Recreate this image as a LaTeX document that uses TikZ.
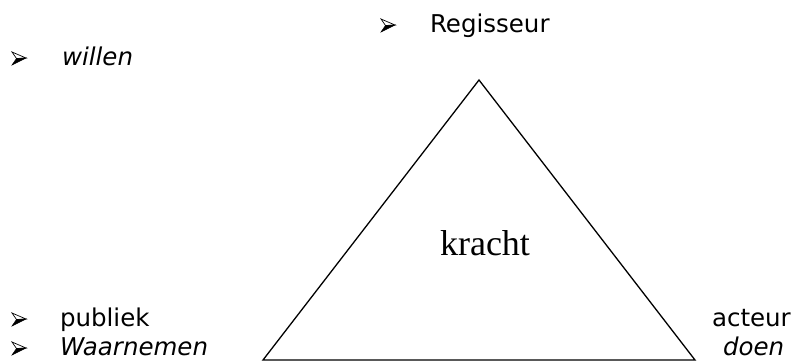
\documentclass[tikz,border=0pt]{standalone}
\usepackage{fontspec}
\setmainfont{DejaVu Sans}
\newfontfamily\krachtfont{Liberation Serif}
\begin{document}
\begin{tikzpicture}[x=1pt,y=-1pt,
  lbl/.style={anchor=base west,inner sep=0pt,outer sep=0pt,font=\fontsize{24.5}{29}\selectfont},
  ilbl/.style={lbl,font=\fontsize{24.5}{29}\selectfont\itshape},
  tri/.style={draw=black,line width=1.3pt,line join=miter},
  bulletarrow/.pic={
    \fill[black] (0,0) -- (14,-7) -- (4.5,-6.5) -- cycle;
    \draw[black,line width=0.7pt,line join=miter] (0,-13) -- (14,-7) -- (4.5,-6.5) -- cycle;
    \draw[black,line width=0.5pt,line join=miter] (0,0) -- (14,-7) -- (4.5,-6.5) -- cycle;
  }]
\useasboundingbox (0,0) rectangle (798,362);
% triangle
\coordinate (apex) at (479,80);
\coordinate (bl) at (263,360);
\coordinate (br) at (695,360);
\draw[tri] (bl) -- (apex) -- (br) -- cycle;
\node[anchor=base,inner sep=0pt,font=\krachtfont\fontsize{36}{40}\selectfont] (kracht) at (485,255) {kracht};
% bullets and labels
\pic at (381,32) {bulletarrow};
\node[lbl] (regisseur) at (430,32) {Regisseur};
\pic at (12,65) {bulletarrow};
\node[ilbl] (willen) at (62,65) {willen};
\pic at (12,326) {bulletarrow};
\node[lbl] (publiek) at (60,326) {publiek};
\pic at (12,355) {bulletarrow};
\node[ilbl] (waarnemen) at (60,355) {Waarnemen};
\node[lbl] (acteur) at (712,326) {acteur};
\node[ilbl] (doen) at (723,355) {doen};
\end{tikzpicture}
\end{document}
